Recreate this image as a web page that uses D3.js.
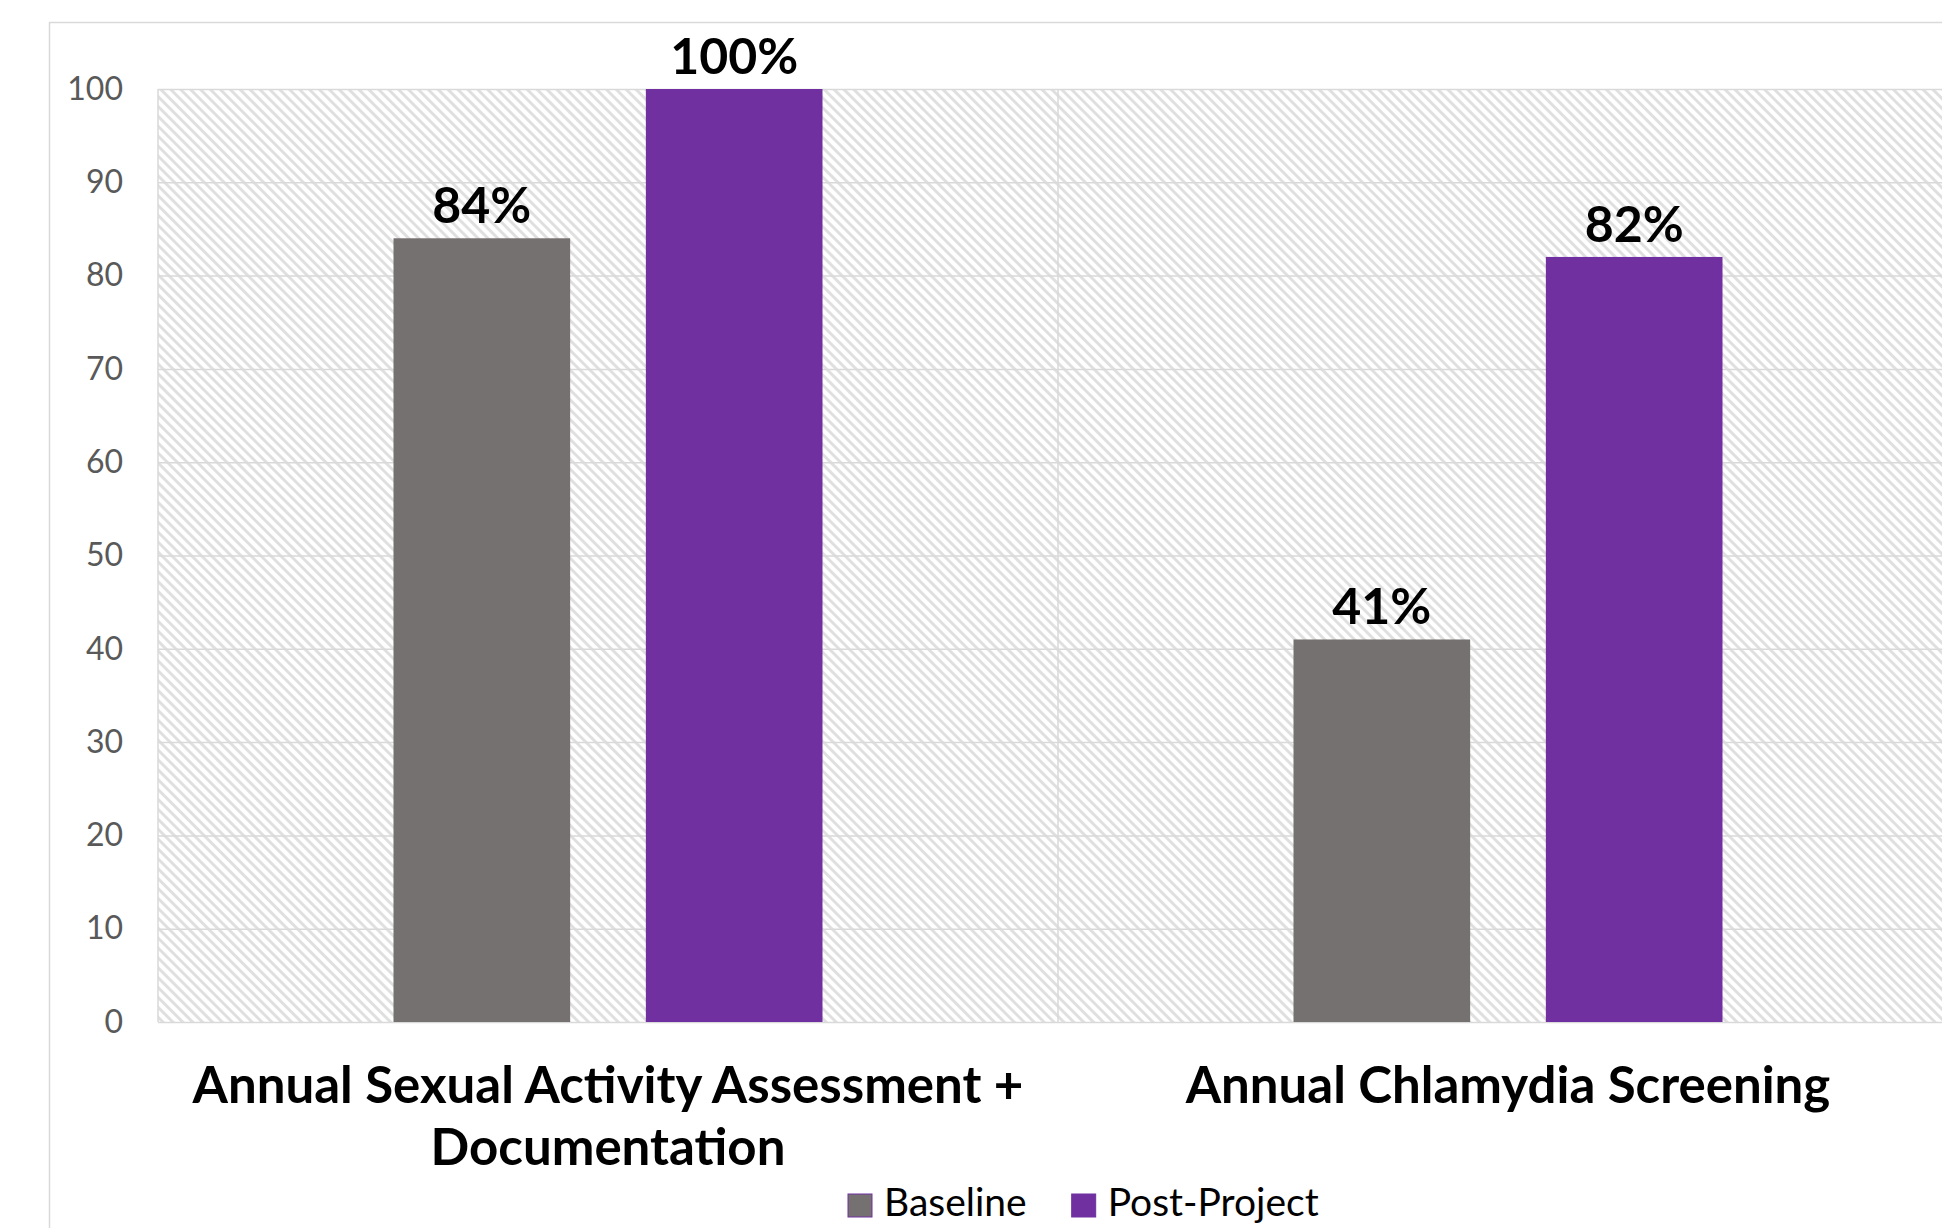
<!DOCTYPE html>
<html>
<head>
<meta charset="utf-8">
<script src="https://cdn.jsdelivr.net/npm/d3@7"></script>
<style>
  body { margin: 0; background: #fff; }
  svg { display: block; font-family: Lato, "Open Sans", sans-serif; }
</style>
</head>
<body>
<svg id="chart"></svg>
<script>
// data
var categories = ["Annual Sexual Activity Assessment + Documentation", "Annual Chlamydia Screening"];
var series = ["Baseline", "Post-Project"];
var baseline = [84, 41];
var postProject = [100, 82];
var yTicks = [0, 10, 20, 30, 40, 50, 60, 70, 80, 90, 100];
var colors = ["#767171", "#7030A0"];

var W = 1942, H = 1228;
var plotL = 158, plotR = 1958, plotT = 89, plotB = 1022;

var svg = d3.select("#chart").attr("width", W).attr("height", H);

// hatch pattern for plot background (downward diagonal)
var defs = svg.append("defs");
var pat = defs.append("pattern")
    .attr("id", "hatch")
    .attr("patternUnits", "userSpaceOnUse")
    .attr("width", 7)
    .attr("height", 7)
    .attr("patternTransform", "rotate(-45)");
pat.append("rect").attr("width", 7).attr("height", 7).attr("fill", "#fff");
pat.append("line")
    .attr("x1", 1.5).attr("y1", 0).attr("x2", 1.5).attr("y2", 7)
    .attr("stroke", "#dedede").attr("stroke-width", 2.8);

// outer chart border
svg.append("rect")
    .attr("x", 49.5).attr("y", 22.5)
    .attr("width", W).attr("height", H)
    .attr("fill", "none").attr("stroke", "#d9d9d9").attr("stroke-width", 1.5);

var x0 = d3.scaleBand().domain(categories).range([plotL, plotR]).padding(0);
var x1 = d3.scaleBand().domain(series).range([235.5, 664.5]).paddingInner(0.3);
var y = d3.scaleLinear().domain([0, 100]).range([plotB, plotT]);

svg.append("rect")
    .attr("x", plotL).attr("y", plotT)
    .attr("width", plotR - plotL).attr("height", plotB - plotT)
    .attr("fill", "url(#hatch)");

// horizontal gridlines
svg.append("g")
    .attr("transform", "translate(" + plotL + ",0)")
    .call(d3.axisLeft(y).tickValues(yTicks).tickSize(-(plotR - plotL)).tickFormat(""))
    .call(function(g) { g.select(".domain").remove(); })
    .selectAll("line")
    .attr("stroke", "#d9d9d9").attr("stroke-width", 1.5);

// vertical category dividers
var edges = categories.map(function(c) { return x0(c); }).concat([plotR]);
svg.append("g").selectAll("line")
    .data(edges).enter()
    .append("line")
    .attr("x1", function(d) { return d; })
    .attr("x2", function(d) { return d; })
    .attr("y1", plotT).attr("y2", plotB)
    .attr("stroke", "#d9d9d9").attr("stroke-width", 1.5);

// y tick labels
svg.append("g")
    .attr("transform", "translate(" + plotL + ",0)")
    .call(d3.axisLeft(y).tickValues(yTicks).tickSize(0).tickPadding(35))
    .call(function(g) { g.select(".domain").remove(); })
    .selectAll("text")
    .attr("fill", "#595959")
    .style("font-family", "Lato, sans-serif")
    .style("font-size", "32px");

// bars
var rows = [];
categories.forEach(function(c, i) {
  rows.push({cat: c, s: series[0], v: baseline[i], color: colors[0]});
  rows.push({cat: c, s: series[1], v: postProject[i], color: colors[1]});
});

svg.append("g").selectAll("rect")
    .data(rows).enter()
    .append("rect")
    .attr("x", function(d) { return x0(d.cat) + x1(d.s); })
    .attr("y", function(d) { return y(d.v); })
    .attr("width", x1.bandwidth())
    .attr("height", function(d) { return y(0) - y(d.v); })
    .attr("fill", function(d) { return d.color; });

// value labels
svg.append("g").selectAll("text")
    .data(rows).enter()
    .append("text")
    .attr("x", function(d) { return x0(d.cat) + x1(d.s) + x1.bandwidth() / 2; })
    .attr("y", function(d) { return y(d.v) - 15; })
    .attr("text-anchor", "middle")
    .style("font-weight", "bold")
    .style("font-size", "50px")
    .attr("fill", "#000")
    .text(function(d) { return d.v + "%"; });

// category labels, wrapped to band width
var catText = svg.append("g").selectAll("text")
    .data(categories).enter()
    .append("text")
    .attr("x", function(d) { return x0(d) + x0.bandwidth() / 2; })
    .attr("y", 1103)
    .attr("text-anchor", "middle")
    .style("font-weight", "bold")
    .style("font-size", "51px")
    .attr("fill", "#000");

catText.each(function(d) {
  var t = d3.select(this), words = d.split(" "), line = [];
  var span = t.append("tspan").attr("x", t.attr("x")).attr("dy", 0);
  words.forEach(function(w) {
    line.push(w);
    span.text(line.join(" "));
    if (span.node().getComputedTextLength() > x0.bandwidth() - 40 && line.length > 1) {
      line.pop();
      span.text(line.join(" "));
      line = [w];
      span = t.append("tspan").attr("x", t.attr("x")).attr("dy", 62).text(w);
    }
  });
});

// legend
var legend = svg.append("g");
var lx = 848;
series.forEach(function(s, i) {
  legend.append("rect")
      .attr("x", lx).attr("y", 1194)
      .attr("width", 24).attr("height", 23)
      .attr("fill", colors[i])
      .attr("stroke", colors[1]).attr("stroke-width", 1);
  var t = legend.append("text")
      .attr("x", lx + 36).attr("y", 1216)
      .style("font-size", "39px")
      .attr("fill", "#000")
      .text(s);
  lx += 36 + t.node().getComputedTextLength() + 45;
});
</script>
</body>
</html>
